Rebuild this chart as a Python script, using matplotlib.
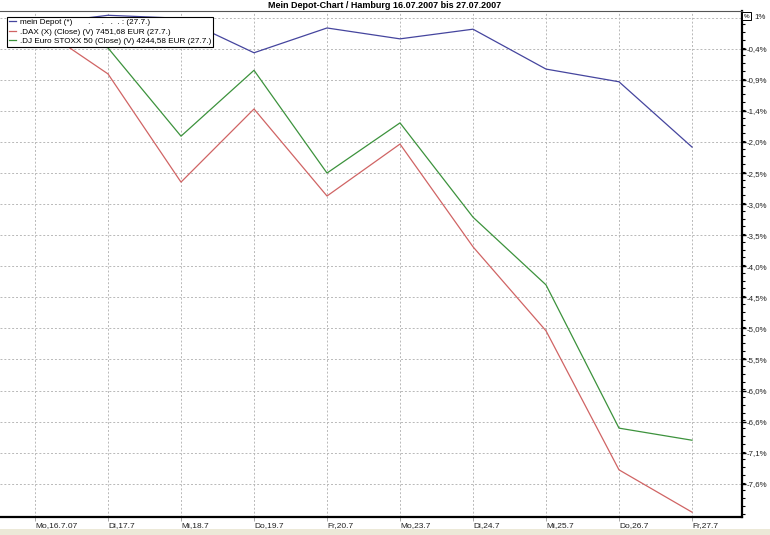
import matplotlib
matplotlib.use("Agg")
import matplotlib.pyplot as plt
from matplotlib.ticker import FixedLocator, MultipleLocator
from matplotlib.patches import Rectangle

# ---- data ----
dates = ["Mo,16.7.07", "Di,17.7", "Mi,18.7", "Do,19.7", "Fr,20.7",
         "Mo,23.7", "Di,24.7", "Mi,25.7", "Do,26.7", "Fr,27.7"]
depot = [0.0, 0.15, 0.10, -0.47, -0.06, -0.24, -0.08, -0.74, -0.95, -2.03]
dax = [0.0, -0.82, -2.61, -1.40, -2.84, -1.98, -3.68, -5.07, -7.37, -8.07]
stoxx = [0.0, -0.39, -1.85, -0.76, -2.46, -1.63, -3.19, -4.31, -6.68, -6.88]
series_labels = ["mein Depot (*)       .     .   .  . : (27.7.)",
                 ".DAX (X) (Close) (V) 7451,68 EUR (27.7.)",
                 ".DJ Euro STOXX 50 (Close) (V) 4244,58 EUR (27.7.)"]
ytick_labels = ["1%", "-0,4%", "-0,9%", "-1,4%", "-2,0%", "-2,5%", "-3,0%", "-3,5%",
                "-4,0%", "-4,5%", "-5,0%", "-5,5%", "-6,0%", "-6,6%", "-7,1%", "-7,6%"]
title = "Mein Depot-Chart / Hamburg 16.07.2007 bis 27.07.2007"

plt.rcParams['font.family'] = ['Liberation Sans', 'DejaVu Sans']

W, H = 770, 535
fig = plt.figure(figsize=(W / 100, H / 100), dpi=100)
fig.patch.set_facecolor("white")

ax_l, ax_r, ax_t, ax_b = 0, 742, 11, 517
ax = fig.add_axes([ax_l / W, 1 - ax_b / H, (ax_r - ax_l) / W, (ax_b - ax_t) / H])

x = list(range(len(dates)))
colors = ["#45459e", "#d06464", "#3c923c"]
for ys, c, lab in zip([depot, dax, stoxx], colors, series_labels):
    ax.plot(x, ys, color=c, lw=0.9, label=lab, zorder=3)

step = 0.514
top_tick = 0.11
yticks = [top_tick - step * k for k in range(len(ytick_labels))]
ax.set_xlim(-35 / 73, 9 + 50 / 73)
ax.set_ylim(top_tick - (ax_b - 17.7) / 31.07 * step, top_tick + (17.7 - ax_t) / 31.07 * step)

ax.yaxis.tick_right()
ax.yaxis.set_major_locator(FixedLocator(yticks))
ax.set_yticklabels([""] + ytick_labels[1:])
ax.yaxis.set_minor_locator(MultipleLocator(step / 4))
ax.tick_params(axis='y', which='major', direction='out', length=3, width=1,
               labelsize=5.7, pad=0.5, colors='black', labelcolor='#222222')
ax.tick_params(axis='y', which='minor', direction='out', length=2, width=0.8)

# top tick label sits to the right of the small "%" box
ax.annotate(ytick_labels[0], xy=(1, yticks[0]), xycoords=('axes fraction', 'data'),
            xytext=(12, 0), textcoords='offset pixels', ha='left', va='center',
            fontsize=5.7, color='#222222', annotation_clip=False)

ax.set_xticks(x)
ax.set_xticklabels(dates, ha='left')
ax.tick_params(axis='x', which='major', direction='out', length=3, width=0.6,
               color='#999999', labelsize=6.0, pad=0.5, labelcolor='#222222')

ax.grid(True, which='major', color='#b8b8b8', lw=0.7, linestyle=(0, (2, 2)))

ax.spines['left'].set_visible(False)
ax.spines['top'].set_color('#555555')
ax.spines['top'].set_linewidth(0.8)
ax.spines['right'].set_linewidth(1.6)
ax.spines['bottom'].set_linewidth(1.6)

leg = ax.legend(loc='upper left', bbox_to_anchor=(7 / 742, 1 - 6 / 506), borderaxespad=0,
                fontsize=5.85, frameon=True, fancybox=False, handlelength=0.9,
                handletextpad=0.45, labelspacing=0.2, borderpad=0.2, framealpha=1)
leg.get_frame().set_edgecolor('black')
leg.get_frame().set_linewidth(0.8)
leg.set_zorder(5)

fig.text(385 / W, 1 - 5.5 / H, title, ha='center', va='center', fontsize=6.5,
         fontweight='bold')

# small "%" box at top right corner of axis
fig.text(746.5 / W, 1 - 16 / H, "%", ha='center', va='center', fontsize=4.5,
         bbox=dict(boxstyle='square,pad=0.25', fc='white', ec='black', lw=0.7), zorder=10)

# status bar at bottom
fig.patches.append(Rectangle((0, 0), 1, 6 / H, transform=fig.transFigure,
                             facecolor='#ece9d8', edgecolor='none', zorder=0))

fig.savefig("out.png", dpi=100)
